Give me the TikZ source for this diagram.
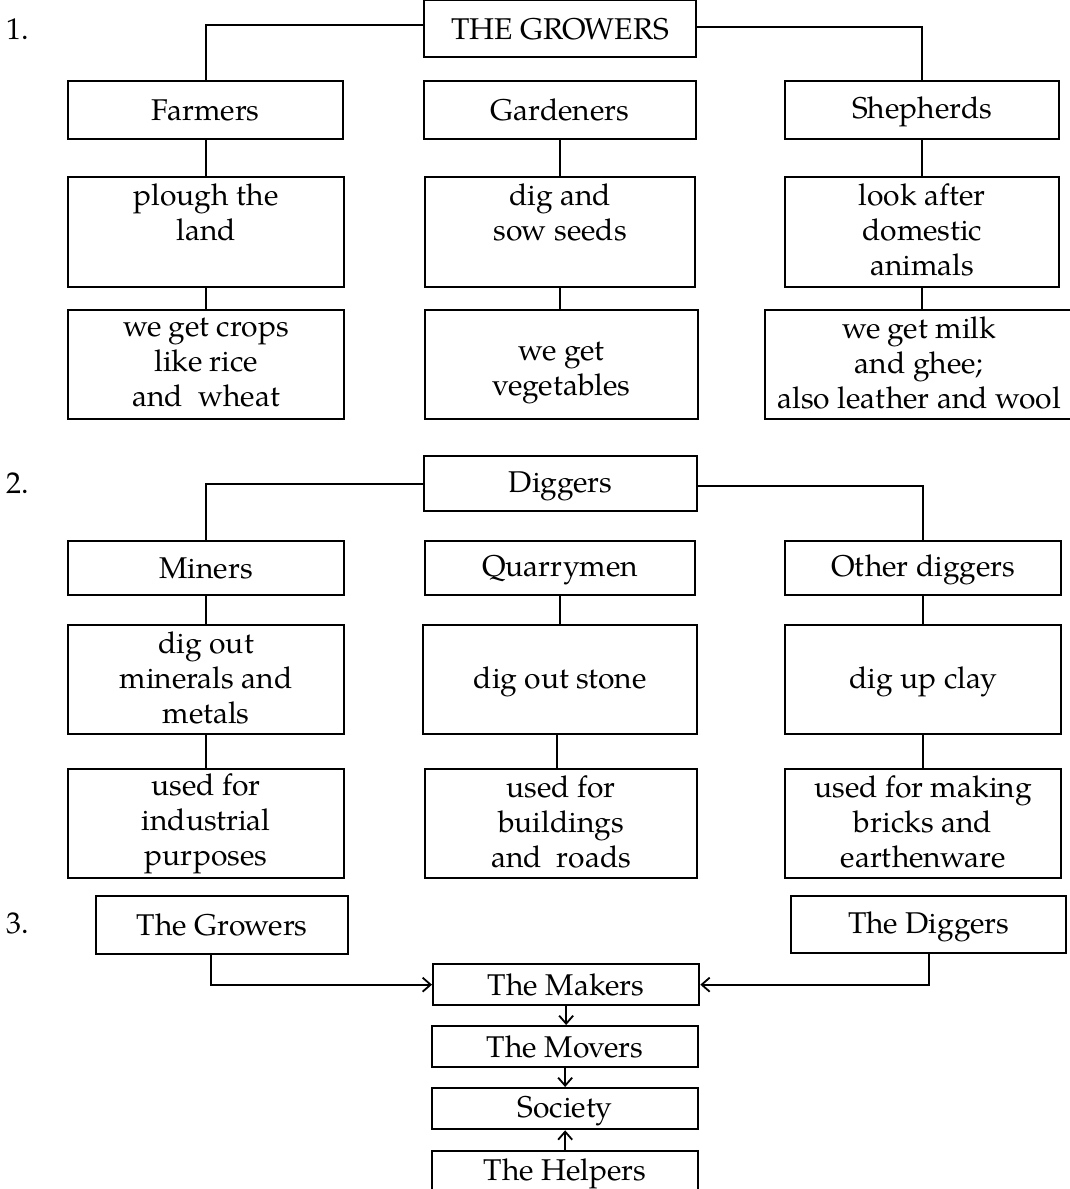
\documentclass[tikz,border=0pt]{standalone}
\usepackage{fontspec}
\setmainfont{TeX Gyre Pagella}
\usetikzlibrary{arrows.meta}
\newcommand\mystrut{\rule[-4.5pt]{0pt}{30.5pt}}
\begin{document}
\begin{tikzpicture}[x=1pt,y=-1pt,
  box/.style={draw, line width=2.3pt, inner sep=0pt, align=center, anchor=north west,
    font=\fontsize{30}{35}\selectfont,
    execute at begin node=\mystrut, execute at end node=\mystrut},
  lbl/.style={anchor=west, inner sep=0pt, font=\fontsize{30}{35}\selectfont},
  conn/.style={line width=2.3pt},
  arr/.style={line width=2.3pt, -{Straight Barb[length=8pt,width=14pt,line width=1.8pt]}}]
\useasboundingbox (0,0) rectangle (1070,1189);
% labels
\node[lbl] (n1) at (6,29) {1.};
\node[lbl] (n2) at (6,483) {2.};
\node[lbl] (n3) at (6,923) {3.};
% section 1
\node[box, minimum width=272, minimum height=57] (growers) at (423,-1) {THE GROWERS};
\node[box, minimum width=275, minimum height=58] (farmers) at (67,80) {Farmers};
\node[box, minimum width=272, minimum height=58] (gardeners) at (423,80) {Gardeners};
\node[box, minimum width=274, minimum height=58] (shepherds) at (784,80) {Shepherds};
\node[box, minimum width=276, minimum height=110] (plough) at (67,176) {plough the\\land\\\mbox{}};
\node[box, minimum width=270, minimum height=110] (dig) at (424,176) {dig and\\sow seeds\\\mbox{}};
\node[box, minimum width=274, minimum height=110] (look) at (784,176) {look after\\domestic\\animals};
\node[box, minimum width=276, minimum height=109] (crops) at (67,309) {we get crops\\like rice\\and\ \ wheat};
\node[box, minimum width=273, minimum height=109] (veg) at (424,309) {\mbox{}\\we get\\vegetables};
\node[box, minimum width=308, minimum height=109] (milk) at (764,309) {we get milk\\and ghee;\\also leather and wool};
\draw[conn] ([yshift=4pt]growers.west) -| (farmers.north);
\draw[conn] ([yshift=2pt]growers.east) -| (shepherds.north);
\draw[conn] (farmers.south) -- (farmers.south |- plough.north);
\draw[conn] (gardeners.south) -- (gardeners.south |- dig.north);
\draw[conn] (shepherds.south) -- (shepherds.south |- look.north);
\draw[conn] (plough.south) -- (plough.south |- crops.north);
\draw[conn] (dig.south) -- (dig.south |- veg.north);
\draw[conn] (look.south) -- (look.south |- milk.north);
% section 2
\node[box, minimum width=273, minimum height=55] (diggers) at (423,455) {Diggers};
\node[box, minimum width=276, minimum height=54] (miners) at (67,540) {Miners};
\node[box, minimum width=270, minimum height=54] (quarry) at (424,540) {Quarrymen};
\node[box, minimum width=276, minimum height=54] (other) at (784,540) {Other diggers};
\node[box, minimum width=276, minimum height=109] (dmin) at (67,624) {dig out\\minerals and\\metals};
\node[box, minimum width=274, minimum height=109] (dstone) at (422,624) {dig out stone};
\node[box, minimum width=276, minimum height=109] (dclay) at (784,624) {dig up clay};
\node[box, minimum width=276, minimum height=109] (uind) at (67,768) {used for\\industrial\\purposes};
\node[box, minimum width=272, minimum height=109] (ubuild) at (424,768) {used for\\buildings\\and\ \ roads};
\node[box, minimum width=276, minimum height=109] (ubrick) at (784,768) {used for making\\bricks and\\earthenware};
\draw[conn] (diggers.west) -| (miners.north);
\draw[conn] ([yshift=-2pt]diggers.east) -| (other.north);
\draw[conn] (miners.south) -- (miners.south |- dmin.north);
\draw[conn] (quarry.south) -- (quarry.south |- dstone.north);
\draw[conn] (other.south) -- (other.south |- dclay.north);
\draw[conn] (dmin.south) -- (dmin.south |- uind.north);
\draw[conn] ([xshift=-3pt]dstone.south) -- ([xshift=-3pt]dstone.south |- ubuild.north);
\draw[conn] (dclay.south) -- (dclay.south |- ubrick.north);
% section 3
\node[box, minimum width=252, minimum height=58] (tgrowers) at (95,895) {The Growers};
\node[box, minimum width=275, minimum height=57] (tdiggers) at (790,895) {The Diggers};
\node[box, minimum width=266, minimum height=41] (makers) at (432,963) {The Makers};
\node[box, minimum width=266, minimum height=41] (movers) at (431,1025) {The Movers};
\node[box, minimum width=266, minimum height=41] (society) at (431,1087) {Society};
\node[box, minimum width=266, minimum height=42] (helpers) at (431,1150) {The Helpers};
\draw[arr] ([xshift=-11pt]tgrowers.south) |- (makers.west);
\draw[arr] (tdiggers.south) |- (makers.east);
\draw[arr] (makers.south) -- (makers.south |- movers.north);
\draw[arr] (movers.south) -- (movers.south |- society.north);
\draw[arr] (helpers.north) -- (helpers.north |- society.south);
\end{tikzpicture}
\end{document}
